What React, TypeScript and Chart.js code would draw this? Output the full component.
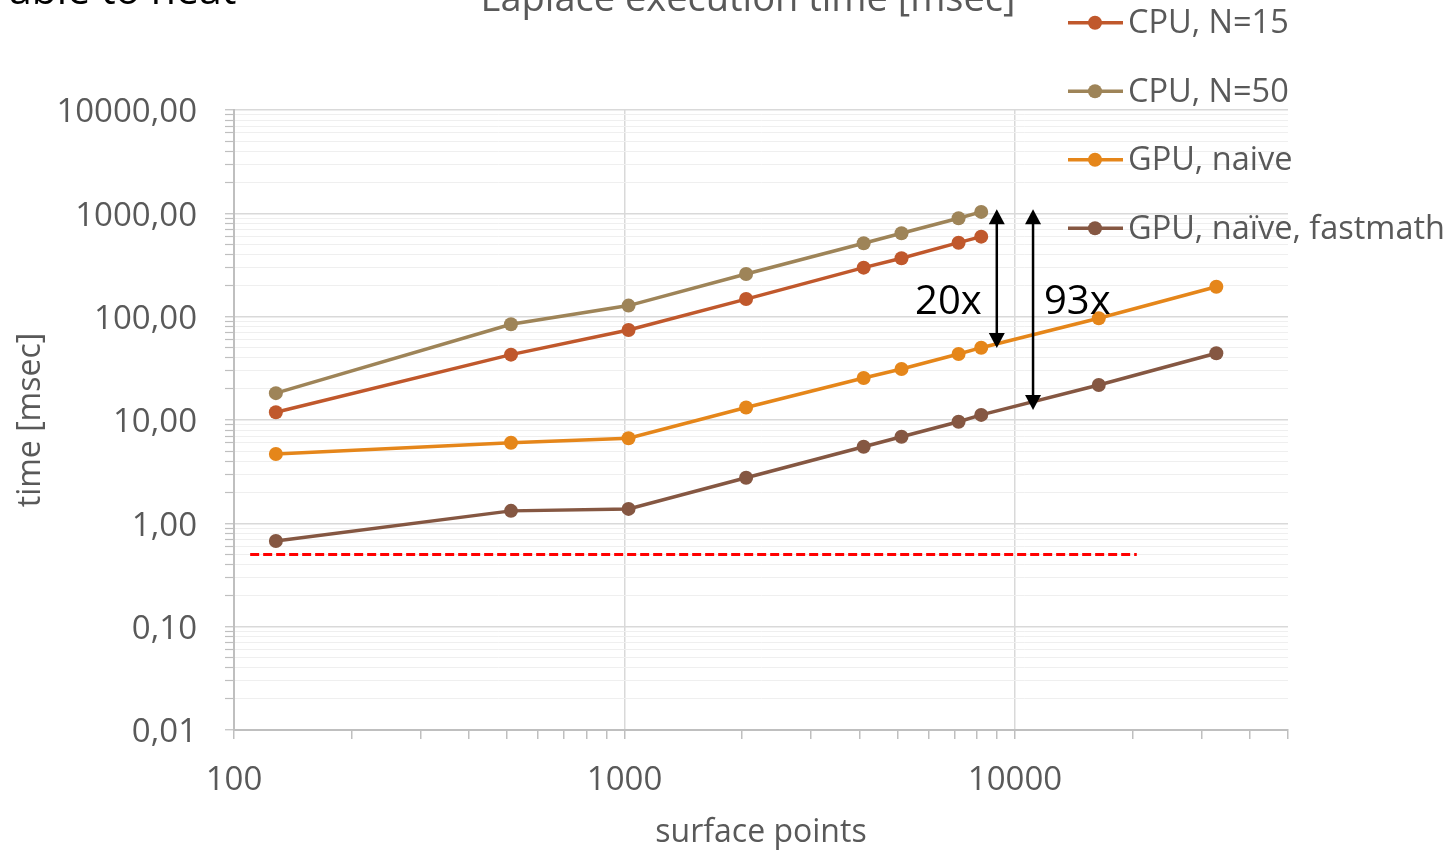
import React, { useEffect, useRef } from 'react';
import { Chart, registerables } from 'chart.js';

Chart.register(...registerables);

// ---- data ----
const surfacePoints = [128, 512, 1024, 2048, 4096, 5120, 7168, 8192, 16384, 32768];
const cpuN15 = [11.9, 42.9, 74.3, 148, 298, 368, 520, 595];
const cpuN50 = [18.2, 84.4, 128, 259, 513, 642, 897, 1032];
const gpuNaive = [4.69, 6.03, 6.65, 13.2, 25.5, 31.2, 43.5, 50.1, 96.5, 195];
const gpuFastmath = [0.674, 1.32, 1.38, 2.76, 5.51, 6.89, 9.63, 11.2, 21.8, 44.2];
const seriesLabels = ['CPU, N=15', 'CPU, N=50', 'GPU, naive', 'GPU, naïve, fastmath'];
const seriesColors = ['#C0582C', '#9E8458', '#E5861A', '#855742'];

const refLineX = [110, 20500];
const refLineY = [0.5, 0.5];

const arrowX = [8980, 11120];
const arrowTop = [1096, 1096];
const arrowBottom = [49.8, 12.5];
const arrowLabels = ['20x', '93x'];
const arrowLabelX = [6750, 14430];
const arrowLabelY = [136, 136];

const xMajorTicks = [100, 1000, 10000];
const yMajorTicks = [0.01, 0.1, 1, 10, 100, 1000, 10000];
const xMin = 100;
const xMax = 50000;
const yMin = 0.01;
const yMax = 10000;

const chartTitle = 'Laplace execution time [msec]';
const xTitle = 'surface points';
const yTitle = 'time [msec]';
const slideText = 'able to neat';

const FONT = '"Open Sans", "DejaVu Sans", sans-serif';
const GRAY_TEXT = '#595959';

function withMinor(majors: number[], min: number, max: number) {
  const out: number[] = [];
  for (const m of majors) {
    for (let k = 1; k <= 9; k++) {
      const v = +(m * k).toPrecision(6);
      if (v >= min && v <= max && !out.includes(v)) out.push(v);
    }
  }
  return out.sort((a, b) => a - b);
}

function pts(xs: number[], ys: number[]) {
  return ys.map((y, i) => ({ x: xs[i], y }));
}

const overlayPlugin = {
  id: 'overlay',
  afterDatasetsDraw(chart: any) {
    const { ctx, scales } = chart;
    const xs = scales.x;
    const ys = scales.y;
    ctx.save();
    ctx.strokeStyle = '#000';
    ctx.fillStyle = '#000';
    ctx.lineWidth = 2.5;
    const headL = 15;
    const headW = 8;
    for (let i = 0; i < arrowX.length; i++) {
      const px = xs.getPixelForValue(arrowX[i]);
      const top = ys.getPixelForValue(arrowTop[i]);
      const bot = ys.getPixelForValue(arrowBottom[i]);
      ctx.beginPath();
      ctx.moveTo(px, top + headL - 1);
      ctx.lineTo(px, bot - headL + 1);
      ctx.stroke();
      ctx.beginPath();
      ctx.moveTo(px, top);
      ctx.lineTo(px - headW, top + headL);
      ctx.lineTo(px + headW, top + headL);
      ctx.closePath();
      ctx.fill();
      ctx.beginPath();
      ctx.moveTo(px, bot);
      ctx.lineTo(px - headW, bot - headL);
      ctx.lineTo(px + headW, bot - headL);
      ctx.closePath();
      ctx.fill();
    }
    ctx.font = `40px ${FONT}`;
    ctx.textAlign = 'center';
    ctx.textBaseline = 'middle';
    for (let i = 0; i < arrowLabels.length; i++) {
      ctx.fillText(
        arrowLabels[i],
        xs.getPixelForValue(arrowLabelX[i]),
        ys.getPixelForValue(arrowLabelY[i])
      );
    }
    ctx.restore();
  },
  afterDraw(chart: any) {
    const { ctx } = chart;
    ctx.save();
    ctx.fillStyle = '#000';
    ctx.font = `41px ${FONT}`;
    ctx.textAlign = 'left';
    ctx.textBaseline = 'alphabetic';
    ctx.fillText(slideText, 9, 3.5);
    ctx.fillStyle = GRAY_TEXT;
    ctx.font = `38px ${FONT}`;
    ctx.textAlign = 'center';
    ctx.fillText(chartTitle, 748, 11);
    const ds = chart.data.datasets.filter((d: any) => !d.hideInLegend);
    ds.forEach((d: any, i: number) => {
      const y = 22.7 + i * 68.5;
      ctx.strokeStyle = d.borderColor;
      ctx.lineWidth = 3.5;
      ctx.beginPath();
      ctx.moveTo(1068, y);
      ctx.lineTo(1123, y);
      ctx.stroke();
      ctx.fillStyle = d.borderColor;
      ctx.beginPath();
      ctx.arc(1095, y, 7, 0, Math.PI * 2);
      ctx.fill();
      ctx.fillStyle = GRAY_TEXT;
      ctx.font = `32.5px ${FONT}`;
      ctx.textAlign = 'left';
      ctx.textBaseline = 'middle';
      ctx.fillText(d.label, 1128, y + 1.5);
    });
    ctx.restore();
  },
};

export default function App() {
  const ref = useRef<HTMLCanvasElement | null>(null);

  useEffect(() => {
    if (!ref.current) return;
    const xTicks = withMinor(xMajorTicks, xMin, xMax);
    const yTicks = withMinor(yMajorTicks, yMin, yMax);

    const mkSeries = (vals: number[], i: number) => ({
      label: seriesLabels[i],
      data: pts(surfacePoints, vals),
      borderColor: seriesColors[i],
      backgroundColor: seriesColors[i],
      pointBackgroundColor: seriesColors[i],
      pointBorderWidth: 0,
      pointRadius: 7,
      borderWidth: 3.5,
      tension: 0,
    });

    const chart = new Chart(ref.current, {
      type: 'line',
      data: {
        datasets: [
          mkSeries(cpuN15, 0),
          mkSeries(cpuN50, 1),
          mkSeries(gpuNaive, 2),
          mkSeries(gpuFastmath, 3),
          {
            label: 'limit',
            hideInLegend: true,
            data: pts(refLineX, refLineY),
            borderColor: '#FF0000',
            borderWidth: 3,
            borderDash: [9, 4],
            pointRadius: 0,
          } as any,
        ],
      },
      options: {
        animation: false,
        responsive: false,
        devicePixelRatio: 1,
        layout: { padding: { top: 110, right: 165, left: 0, bottom: 0 } },
        plugins: {
          legend: { display: false },
          tooltip: { enabled: false },
          title: { display: false },
        },
        scales: {
          x: {
            type: 'logarithmic',
            min: xMin,
            max: xMax,
            afterBuildTicks: (s: any) => {
              s.ticks = xTicks.map((v) => ({ value: v, major: xMajorTicks.includes(v) }));
            },
            afterFit: (s: any) => {
              s.height = 122;
            },
            ticks: {
              autoSkip: false,
              maxRotation: 0,
              minRotation: 0,
              padding: 22,
              color: GRAY_TEXT,
              font: { family: FONT, size: 33 },
              callback: (v: any) => (xMajorTicks.includes(Number(v)) ? String(v) : ''),
            },
            grid: {
              color: (c: any) => (c.tick && xMajorTicks.includes(c.tick.value) ? '#d9d9d9' : 'rgba(0,0,0,0)'),
              lineWidth: 1.5,
              tickColor: '#bfbfbf',
              tickLength: 9,
              tickWidth: 1.5,
            },
            border: { color: '#bfbfbf', width: 2 },
            title: {
              display: true,
              text: xTitle,
              color: GRAY_TEXT,
              font: { family: FONT, size: 32 },
              padding: { top: 0, bottom: 0 },
            },
          },
          y: {
            type: 'logarithmic',
            min: yMin,
            max: yMax,
            afterBuildTicks: (s: any) => {
              s.ticks = yTicks.map((v) => ({ value: v, major: yMajorTicks.includes(v) }));
            },
            afterFit: (s: any) => {
              s.width = 234;
            },
            ticks: {
              autoSkip: false,
              padding: 28,
              labelOffset: 3,
              color: GRAY_TEXT,
              font: { family: FONT, size: 33 },
              callback: (v: any) =>
                yMajorTicks.includes(Number(v)) ? Number(v).toFixed(2).replace('.', ',') : '',
            },
            grid: {
              color: (c: any) => (c.tick && yMajorTicks.includes(c.tick.value) ? '#d9d9d9' : '#efefef'),
              lineWidth: (c: any) => (c.tick && yMajorTicks.includes(c.tick.value) ? 1.5 : 1),
              tickColor: '#bfbfbf',
              tickLength: 9,
              tickWidth: 1.2,
            },
            border: { color: '#bfbfbf', width: 2 },
            title: {
              display: true,
              text: yTitle,
              color: GRAY_TEXT,
              font: { family: FONT, size: 32 },
              padding: { top: 12, bottom: 0 },
            },
          },
        },
      } as any,
      plugins: [overlayPlugin],
    });
    return () => chart.destroy();
  }, []);

  return (
    <div style={{ position: 'fixed', left: 0, top: 0, width: 1453, height: 852, background: '#fff' }}>
      <canvas ref={ref} width={1453} height={852} style={{ display: 'block' }} />
    </div>
  );
}
